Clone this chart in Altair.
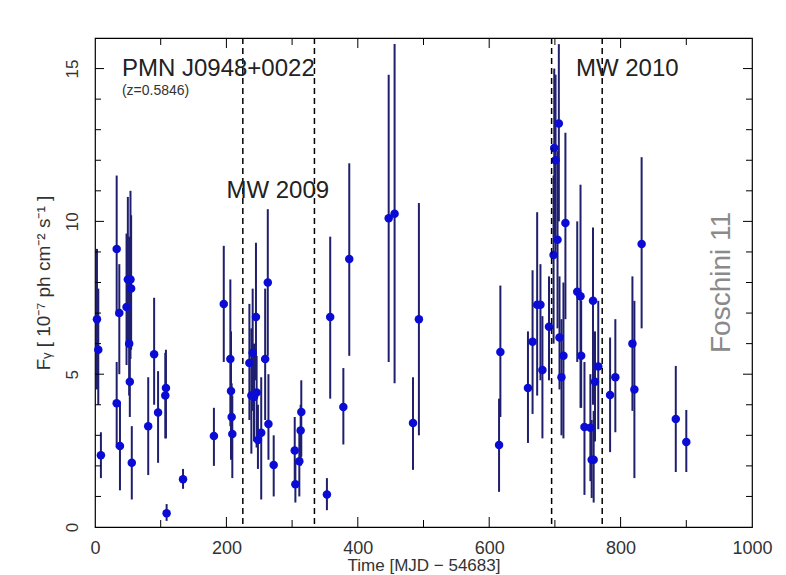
import altair as alt
import pandas as pd

# ---- data ----
times = [3, 5, 9, 33, 33, 37, 38, 48, 50, 52, 53, 54, 55, 56, 81, 90, 96, 107, 108, 109,
         134, 181, 196, 206, 207, 208, 209, 235, 238, 240, 242, 245, 246, 248, 253, 259,
         263, 264, 272, 304, 305, 311, 313, 314, 353, 358, 378, 387, 447, 456, 484, 493,
         615, 617, 659, 666, 673, 678, 681, 691, 698, 699, 701, 704, 706, 707, 710, 713,
         716, 734, 739, 740, 745, 754, 756, 758, 759, 761, 766, 784, 792, 818, 821, 832,
         884, 900]
flux = [6.8, 5.8, 2.35, 9.1, 4.05, 7.0, 2.65, 7.2, 8.1, 6.0, 4.75, 8.1, 7.8, 2.1, 3.3, 5.65,
        3.75, 4.3, 4.55, 0.45, 1.56, 2.98, 7.3, 5.5, 4.45, 3.6, 3.04, 5.37, 4.3, 5.7, 4.25,
        6.87, 4.4, 2.85, 3.08, 5.5, 8.0, 3.37, 2.03, 2.5, 1.4, 2.15, 3.16, 3.76, 1.06, 6.87,
        3.93, 8.77, 10.1, 10.25, 3.4, 6.8, 2.68, 5.73, 4.55, 6.06, 7.27, 7.27, 5.14, 6.55,
        8.9, 12.4, 12.0, 9.4, 13.2, 6.2, 4.9, 5.6, 9.95, 7.7, 7.55, 5.6, 3.27, 3.25, 2.2,
        7.4, 2.2, 4.75, 5.25, 4.32, 4.9, 6.0, 4.5, 9.26, 3.53, 2.78]
flux_lo = [4.5, 4.0, 1.6, 6.9, 2.6, 5.0, 1.2, 5.3, 6.0, 4.3, 3.6, 5.5, 5.8, 0.9, 1.7, 4.0,
           2.1, 2.9, 2.9, 0.2, 1.25, 2.0, 5.4, 3.3, 2.2, 2.4, 1.6, 3.5, 2.4, 3.8, 2.8,
           4.8, 2.6, 1.9, 0.9, 3.5, 5.6, 2.2, 1.0, 1.5, 0.8, 1.0, 2.0, 2.3, 0.55, 4.2,
           2.7, 5.6, 5.4, 4.7, 1.87, 3.0, 1.15, 3.6, 2.75, 3.7, 4.3, 4.8, 2.9, 4.8,
           6.0, 9.5, 9.0, 6.5, 10.0, 4.5, 3.0, 2.9, 6.8, 5.4, 3.9, 3.9, 1.05, 1.5, 0.95,
           4.0, 0.8, 2.8, 3.2, 2.45, 3.1, 3.8, 1.6, 6.5, 1.8, 1.8]
flux_hi = [9.1, 7.8, 3.1, 11.5, 5.4, 8.6, 4.1, 9.6, 10.8, 9.5, 8.0, 11.0, 10.2, 3.3, 4.9, 7.5,
           5.1, 5.7, 5.8, 0.75, 1.9, 3.9, 9.2, 8.1, 6.4, 4.7, 4.3, 7.3, 6.5, 7.8, 6.0,
           9.3, 5.6, 4.0, 4.9, 7.8, 10.4, 5.0, 3.0, 3.6, 2.2, 3.2, 4.0, 4.8, 1.6, 9.5,
           5.2, 11.9, 14.8, 15.8, 4.9, 10.6, 4.2, 7.9, 6.4, 8.4, 10.3, 8.6, 6.9, 8.2,
           11.5, 15.0, 14.8, 12.3, 15.8, 8.2, 6.8, 8.0, 12.9, 10.0, 11.2, 7.4, 5.4, 5.0, 3.5,
           9.8, 3.8, 6.4, 7.4, 6.2, 6.8, 8.2, 7.4, 12.1, 5.27, 3.83]

mw_lines = [225, 334, 695, 772]

big_labels = ["PMN J0948+0022", "MW 2009", "MW 2010"]
big_label_t = [41, 200, 732]
big_label_f = [15.0, 11.0, 15.0]

small_labels = ["(z=0.5846)"]
small_label_t = [41]
small_label_f = [14.27]

credit = ["Foschini 11"]
credit_t = [955]
credit_f = [8.0]

x_tick_labels = [0, 200, 400, 600, 800, 1000]
x_ticks_major = [200, 400, 600, 800]
x_ticks_minor = [100, 300, 500, 700, 900]
y_tick_labels = [0, 5, 10, 15]
y_ticks_major = [5, 10, 15]
y_ticks_minor = [1, 2, 3, 4, 6, 7, 8, 9, 11, 12, 13, 14]

W, H = 657, 489
FONT = "Liberation Sans"

df = pd.DataFrame({"t": times, "f": flux, "lo": flux_lo, "hi": flux_hi})

xs = alt.Scale(domain=[0, 1000], nice=False, zero=False)
ys = alt.Scale(domain=[0, 16], nice=False, zero=False)

x_axis = alt.Axis(values=x_tick_labels, format="d", ticks=False, domain=False, grid=False,
                  labelFlush=False, labelOverlap=False, labelPadding=12,
                  labelFontSize=18, labelColor="#333", labelFont=FONT,
                  title="Time [MJD \u2212 54683]", titleFont=FONT, titleFontSize=17,
                  titleFontWeight="normal", titleColor="#333", titlePadding=0)
y_axis = alt.Axis(values=y_tick_labels, format="d", ticks=False, domain=False, grid=False,
                  labelFlush=False, labelOverlap=False, labelAngle=-90, labelAlign="center",
                  labelBaseline="bottom", labelPadding=14,
                  labelFontSize=17, labelColor="#333", labelFont=FONT,
                  title="F\u1D67 [ 10\u207B\u2077 ph cm\u207B\u00B2 s\u207B\u00B9 ]",
                  titleFont=FONT, titleFontSize=19, titleFontWeight="normal",
                  titleColor="#333", titlePadding=10)

base = alt.Chart(df)

bars = base.mark_rule(color="#1f1f6e", strokeWidth=2).encode(
    x=alt.X("t:Q", scale=xs, axis=x_axis),
    y=alt.Y("lo:Q", scale=ys, axis=y_axis),
    y2="hi:Q",
)
points = base.mark_circle(color="#0b0bd6", opacity=1, size=72).encode(
    x=alt.X("t:Q", scale=xs),
    y=alt.Y("f:Q", scale=ys),
)

dashed = alt.Chart(pd.DataFrame({"t": mw_lines})).mark_rule(
    color="black", strokeWidth=1.5, strokeDash=[6, 4]
).encode(x=alt.X("t:Q", scale=xs))

big_text = alt.Chart(pd.DataFrame({"lab": big_labels, "t": big_label_t, "f": big_label_f})).mark_text(
    align="left", baseline="middle", font=FONT, fontSize=24, color="#222"
).encode(x=alt.X("t:Q", scale=xs), y=alt.Y("f:Q", scale=ys), text="lab:N")

small_text = alt.Chart(pd.DataFrame({"lab": small_labels, "t": small_label_t, "f": small_label_f})).mark_text(
    align="left", baseline="middle", font=FONT, fontSize=14, color="#333"
).encode(x=alt.X("t:Q", scale=xs), y=alt.Y("f:Q", scale=ys), text="lab:N")

credit_text = alt.Chart(pd.DataFrame({"lab": credit, "t": credit_t, "f": credit_f})).mark_text(
    align="center", baseline="middle", font=FONT, fontSize=28, color="#8a8a8a", angle=270
).encode(x=alt.X("t:Q", scale=xs), y=alt.Y("f:Q", scale=ys), text="lab:N")


def xticks(vals, length):
    d = pd.DataFrame({"v": vals})
    bottom = alt.Chart(d).mark_rule(color="black", strokeWidth=1).encode(
        x=alt.X("v:Q", scale=xs), y=alt.value(H), y2=alt.value(H - length))
    top = alt.Chart(d).mark_rule(color="black", strokeWidth=1).encode(
        x=alt.X("v:Q", scale=xs), y=alt.value(0), y2=alt.value(length))
    return [bottom, top]


def yticks(vals, length):
    d = pd.DataFrame({"v": vals})
    left = alt.Chart(d).mark_rule(color="black", strokeWidth=1).encode(
        y=alt.Y("v:Q", scale=ys), x=alt.value(0), x2=alt.value(length))
    right = alt.Chart(d).mark_rule(color="black", strokeWidth=1).encode(
        y=alt.Y("v:Q", scale=ys), x=alt.value(W), x2=alt.value(W - length))
    return [left, right]


layers = [bars, points, dashed, big_text, small_text, credit_text]
layers += xticks(x_ticks_major, 10) + xticks(x_ticks_minor, 7)
layers += yticks(y_ticks_major, 9) + yticks(y_ticks_minor, 6)

chart = alt.layer(*layers).properties(
    width=W, height=H,
    autosize=alt.AutoSizeParams(type="none"),
    padding={"left": 95, "top": 38, "right": 34, "bottom": 48},
    background="white",
).configure_view(stroke="black", strokeWidth=1.2)

chart.save("out.html", embed_options={"renderer": "svg", "actions": False})
